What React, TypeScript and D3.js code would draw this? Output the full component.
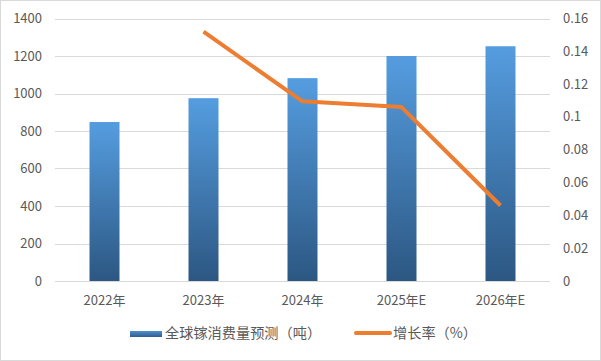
import React from "react";
import * as d3 from "d3";

const categories = ["2022年", "2023年", "2024年", "2025年E", "2026年E"];
const consumption = [848, 975, 1082, 1200, 1252];
const growth: (number | null)[] = [null, 0.152, 0.1095, 0.106, 0.046];
const leftTicks = [0, 200, 400, 600, 800, 1000, 1200, 1400];
const rightTicks = [0, 0.02, 0.04, 0.06, 0.08, 0.1, 0.12, 0.14, 0.16];
const barName = "全球镓消费量预测（吨）";
const lineName = "增长率（%）";

const W = 601, H = 361;
const left = 55, right = 550, top = 18.5, bottom = 281;
const font = "'Noto Sans CJK SC', 'Microsoft YaHei', sans-serif";
const txt = "#595959";

export default function App() {
  const x = d3.scaleBand<string>().domain(categories).range([left, right]).paddingInner(0.697).paddingOuter(0.3485);
  const y = d3.scaleLinear().domain([0, 1400]).range([bottom, top]);
  const y2 = d3.scaleLinear().domain([0, 0.16]).range([bottom, top]);
  const pts = categories.map((c, i) => ({ c, v: growth[i] })).filter(d => d.v !== null) as { c: string; v: number }[];
  const line = d3.line<{ c: string; v: number }>().x(d => (x(d.c) ?? 0) + x.bandwidth() / 2).y(d => y2(d.v));
  return (
    <svg width={W} height={H} style={{ position: "absolute", left: 0, top: 0, display: "block", background: "#fff" }}>
      <defs>
        <linearGradient id="barg" x1="0" y1="0" x2="0" y2="1">
          <stop offset="0" stopColor="#559DE0" />
          <stop offset="1" stopColor="#2C5782" />
        </linearGradient>
        <linearGradient id="legg" x1="0" y1="0" x2="0" y2="1">
          <stop offset="0" stopColor="#4F90CF" />
          <stop offset="1" stopColor="#2F5E8E" />
        </linearGradient>
      </defs>
      <rect x={0.5} y={0.5} width={W - 1} height={H - 1} fill="#fff" stroke="#D9D9D9" />
      {leftTicks.map(t => (
        <line key={t} x1={left} x2={right} y1={Math.round(y(t)) + 0.5} y2={Math.round(y(t)) + 0.5} stroke="#D9D9D9" strokeWidth={1} />
      ))}
      {leftTicks.map(t => (
        <text key={t} x={42} y={y(t)} dy="0.35em" textAnchor="end" fontSize={13} fill={txt} fontFamily={font}>{t}</text>
      ))}
      {rightTicks.map(t => (
        <text key={t} x={563} y={y2(t)} dy="0.35em" textAnchor="start" fontSize={13} fill={txt} fontFamily={font}>{String(+t.toFixed(2))}</text>
      ))}
      {categories.map((c, i) => (
        <rect key={c} x={x(c)} y={y(consumption[i])} width={x.bandwidth()} height={bottom - y(consumption[i])} fill="url(#barg)" />
      ))}
      {categories.map(c => (
        <text key={c} x={(x(c) ?? 0) + x.bandwidth() / 2} y={300} dy="0.35em" textAnchor="middle" fontSize={13} fill={txt} fontFamily={font}>{c}</text>
      ))}
      <path d={line(pts) ?? ""} fill="none" stroke="#ED7D31" strokeWidth={4} strokeLinejoin="round" />
      <rect x={130} y={331} width={32} height={6} fill="url(#legg)" />
      <text x={165} y={333} dy="0.35em" fontSize={14.2} fill={txt} fontFamily={font}>{barName}</text>
      <line x1={356} x2={390} y1={333} y2={333} stroke="#ED7D31" strokeWidth={4} strokeLinecap="round" />
      <text x={393} y={333} dy="0.35em" fontSize={14.2} fill={txt} fontFamily={font}>{lineName}</text>
    </svg>
  );
}
